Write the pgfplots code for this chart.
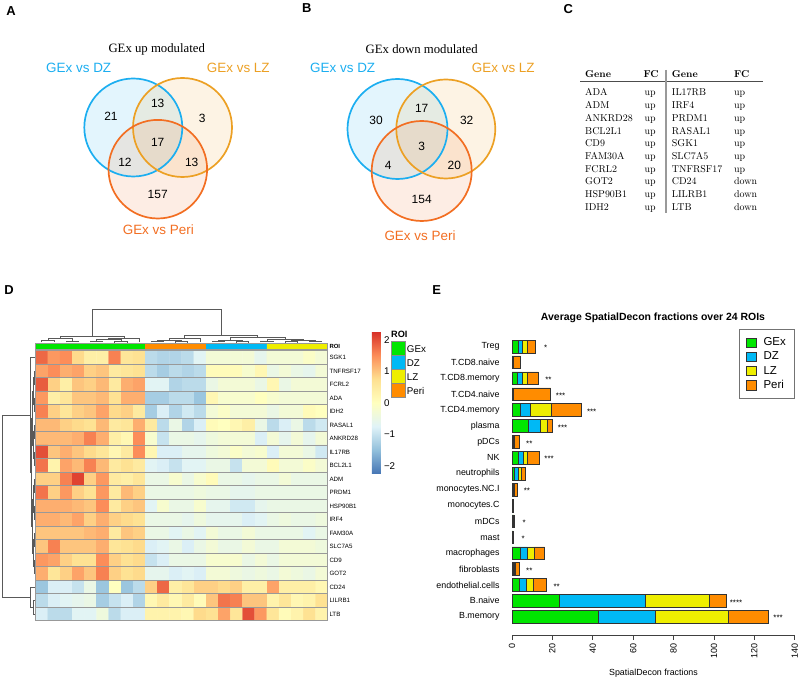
\documentclass[border=0pt]{standalone}
\usepackage{fontspec}
\setsansfont{Liberation Sans}
\newfontfamily\tnr{Liberation Serif}
\usepackage{pgfplots}
\pgfplotsset{compat=1.18}
\usepackage{pgfplotstable}
\newcommand\fs[1]{\fontsize{#1}{#1}\selectfont}
\definecolor{gexc}{RGB}{0,230,0}
\definecolor{dzc}{RGB}{0,185,245}
\definecolor{lzc}{RGB}{238,238,0}
\definecolor{peric}{RGB}{255,140,0}
\definecolor{vdz}{RGB}{28,174,240}
\definecolor{vlz}{RGB}{236,160,36}
\definecolor{vperi}{RGB}{242,110,34}
\pgfplotsset{
  sqlegend/.style={legend image code/.code={\draw[##1,draw=black!80,line width=0.5bp] (0bp,-4.6bp) rectangle (9.3bp,4.6bp);}},
  dg/.style={black!65, line width=0.6bp, mark=none},
}
\tikzset{st/.style={font=\sffamily\fs{8}, xshift=10bp, yshift=-1.5bp}}

% SpatialDecon fractions, y = 17 (Treg) ... 0 (B.memory)
\pgfplotstableread{
y  GEx   DZ    LZ    Peri
17 3.1   2.2   2.3   4.1
16 0.3   0.2   0.3   3.5
15 2.8   2.3   2.2   5.8
14 0.4   0.2   0.2   18.3
13 4.3   4.9   10.4  14.9
12 8.1   5.8   3.6   2.6
11 0.3   0.3   0.7   2.3
10 3.1   2.5   2.0   5.8
9  1.3   1.8   1.5   2.2
8  0.3   0.3   0.3   1.5
7  0.1   0.1   0.1   0.1
6  0.3   0.3   0.2   0.3
5  0.2   0.1   0.1   0.2
4  4.0   3.6   3.5   5.1
3  0.6   0.4   0.8   1.8
2  3.5   3.6   3.5   6.6
1  23.4  42.6  31.7  8.3
0  42.9  28.1  36.3  19.5
}\decon

\begin{document}
\begin{tikzpicture}[x=1bp,y=1bp]
\path[use as bounding box] (0,0) rectangle (800,680);

% panel letters
\begin{scope}[font=\sffamily\bfseries\fs{13}]
\node at (11,669) {A};
\node at (306.7,671.7) {B};
\node at (568.3,670.7) {C};
\node at (9,390) {D};
\node at (436.7,390) {E};
\end{scope}

% ---------- A: Venn up ----------
\node[font=\tnr\fs{12.8}] at (156.7,630.7) {GEx up modulated};
\fill[vdz, fill opacity=0.12] (133.3,552.5) circle[radius=49];
\fill[vlz, fill opacity=0.12] (182.5,552.5) circle[radius=49.5];
\fill[vperi, fill opacity=0.12] (157.8,510.8) circle[radius=49.3];
\draw[vdz, line width=1.7bp] (133.3,552.5) circle[radius=49];
\draw[vlz, line width=1.7bp] (182.5,552.5) circle[radius=49.5];
\draw[vperi, line width=1.7bp] (157.8,510.8) circle[radius=49.3];
\begin{scope}[font=\sffamily\fs{13.5}]
\node[vdz] at (78.7,611.7) {GEx vs DZ};
\node[vlz] at (238.3,611.7) {GEx vs LZ};
\node[vperi] at (158.3,450) {GEx vs Peri};
\end{scope}
\begin{scope}[font=\sffamily\fs{12}]
\node at (111,563.3) {21};
\node at (157.7,576.7) {13};
\node at (202.3,561.7) {3};
\node at (157.7,537.3) {17};
\node at (125,517.3) {12};
\node at (191.7,517.3) {13};
\node at (157.7,485.7) {157};
\end{scope}

% ---------- B: Venn down ----------
\node[font=\tnr\fs{12.8}] at (421.7,630.7) {GEx down modulated};
\fill[vdz, fill opacity=0.12] (397.5,551) circle[radius=50];
\fill[vlz, fill opacity=0.12] (445.8,551) circle[radius=49.5];
\fill[vperi, fill opacity=0.12] (421.7,509) circle[radius=50];
\draw[vdz, line width=1.7bp] (397.5,551) circle[radius=50];
\draw[vlz, line width=1.7bp] (445.8,551) circle[radius=49.5];
\draw[vperi, line width=1.7bp] (421.7,509) circle[radius=50];
\begin{scope}[font=\sffamily\fs{13.5}]
\node[vdz] at (342.7,611.7) {GEx vs DZ};
\node[vlz] at (503.3,611.7) {GEx vs LZ};
\node[vperi] at (420,444) {GEx vs Peri};
\end{scope}
\begin{scope}[font=\sffamily\fs{12}]
\node at (376,559.3) {30};
\node at (421.7,571.7) {17};
\node at (466.7,559.3) {32};
\node at (421.7,534) {3};
\node at (388.3,514.3) {4};
\node at (454.3,514.3) {20};
\node at (421.7,480.7) {154};
\end{scope}

% ---------- C: table ----------
\begin{scope}[every node/.style={anchor=base west, inner sep=0pt, font=\fs{10}}]
\node at (585,602.3) {\bfseries Gene};
\node at (643.3,602.3) {\bfseries FC};
\node at (671.7,602.3) {\bfseries Gene};
\node at (734,602.3) {\bfseries FC};
\foreach \g/\f/\h/\k [count=\i from 0] in {ADA/up/IL17RB/up, ADM/up/IRF4/up,
    ANKRD28/up/PRDM1/up, BCL2L1/up/RASAL1/up, CD9/up/SGK1/up, FAM30A/up/SLC7A5/up,
    FCRL2/up/TNFRSF17/up, GOT2/up/CD24/down, HSP90B1/up/LILRB1/down, IDH2/up/LTB/down} {
  \node at (585,584-12.67*\i) {\g};
  \node at (644.3,584-12.67*\i) {\f};
  \node at (671.7,584-12.67*\i) {\h};
  \node at (734,584-12.67*\i) {\k};
}
\end{scope}
\draw[black!70, line width=0.8bp] (580,598.3) -- (763,598.3);
\draw[black!40, line width=1.1bp] (666,610) -- (666,467);

% ---------- D: heatmap ----------
\begin{axis}[at={(35.7bp,330.3bp)}, anchor=south west, scale only axis,
  width=292bp, height=6bp, xmin=-0.5, xmax=23.5, ymin=0, ymax=1,
  xtick=\empty, ytick=\empty, axis on top,
  minor xtick={-0.5,0.5,...,23.5}, xminorgrids, minor tick length=0pt,
  minor grid style={black!40, line width=0.6bp},
  axis line style={black!40, line width=0.6bp}]
\addplot[fill=gexc, draw=none] coordinates {(-0.5,0) (-0.5,1) (8.5,1) (8.5,0)} \closedcycle;
\addplot[fill=peric, draw=none] coordinates {(8.5,0) (8.5,1) (13.5,1) (13.5,0)} \closedcycle;
\addplot[fill=dzc, draw=none] coordinates {(13.5,0) (13.5,1) (18.5,1) (18.5,0)} \closedcycle;
\addplot[fill=lzc, draw=none] coordinates {(18.5,0) (18.5,1) (23.5,1) (23.5,0)} \closedcycle;
\end{axis}
\node[anchor=west, inner sep=0pt, font=\sffamily\bfseries\fs{6}] at (329.3,333.3) {ROI};

\begin{axis}[at={(35.7bp,59.3bp)}, anchor=south west, scale only axis,
  width=292bp, height=270bp,
  xmin=-0.5, xmax=23.5, ymin=-0.5, ymax=19.5, y dir=reverse, clip=false, axis on top,
  xtick=\empty, ytick={0,...,19},
  yticklabels={SGK1,TNFRSF17,FCRL2,ADA,IDH2,RASAL1,ANKRD28,IL17RB,BCL2L1,ADM,PRDM1,HSP90B1,IRF4,FAM30A,SLC7A5,CD9,GOT2,CD24,LILRB1,LTB},
  yticklabel pos=right,
  yticklabel style={font=\sffamily\fs{6.2}, anchor=west, inner sep=0pt, xshift=1.6bp},
  major tick length=0pt, minor tick length=0pt,
  minor xtick={-0.5,0.5,...,23.5}, minor ytick={-0.5,0.5,...,19.5},
  xminorgrids, yminorgrids,
  minor grid style={black!40, line width=0.6bp},
  axis line style={black!40, line width=0.6bp},
  colormap={rdylbu}{rgb255=(69,117,180) rgb255=(145,191,219) rgb255=(224,243,248)
    rgb255=(255,255,191) rgb255=(254,224,144) rgb255=(252,141,89) rgb255=(215,48,39)},
  point meta min=-2.25, point meta max=2.25,
  colorbar,
  colorbar style={at={(parent axis.north east)}, anchor=north west,
    xshift=35.6bp, yshift=19bp, width=9bp, height=142.3bp, scale only axis,
    ytick={-2,-1,0,1,2}, yticklabels={−2,−1,0,1,2},
    yticklabel style={font=\sffamily\fs{9.8}, anchor=west, inner sep=0pt, xshift=3bp},
    major tick length=0pt, axis line style={draw=none}}]
\addplot[matrix plot*, mesh/cols=24, point meta=explicit]
 table[x expr={\coordindex-24*floor((\coordindex+0.5)/24)},
       y expr={floor((\coordindex+0.5)/24)}, meta=v, row sep=\\] {
v\\
1.8\\ 1.4\\ 1.5\\ 0.8\\ 0.4\\ 0.4\\ 1.6\\ 0.6\\ 0.7\\ -1.1\\ -1.2\\ -1.2\\ -1.1\\ -0.7\\ -0.3\\ -0.3\\ -0.3\\ -0.3\\ -0.6\\ -0.3\\ -0.3\\ -0.3\\ -0.1\\ -0.3\\
1.3\\ 1.5\\ 1.2\\ 1.3\\ 0.9\\ 1.0\\ 0.5\\ 0.6\\ 0.7\\ -1.1\\ -1.3\\ -1.1\\ -1.2\\ -1.1\\ 0.1\\ 0.1\\ 0.1\\ -0.2\\ 0.2\\ -0.5\\ -0.3\\ -0.5\\ -0.6\\ -0.3\\
1.9\\ 0.9\\ 0.4\\ 1.0\\ 0.9\\ 1.1\\ 0.5\\ 1.2\\ 1.3\\ -0.7\\ -0.7\\ -1.2\\ -1.1\\ -1.1\\ -0.5\\ -0.3\\ -0.3\\ -0.3\\ -0.5\\ 0.2\\ -0.5\\ -0.3\\ -0.3\\ -0.3\\
1.4\\ 0.4\\ 0.6\\ 1.0\\ 1.0\\ 1.1\\ 0.7\\ 1.2\\ 1.2\\ -1.3\\ -1.3\\ -1.1\\ -1.1\\ -1.4\\ 0.2\\ -0.2\\ -0.2\\ -0.2\\ 0.0\\ -0.2\\ -0.3\\ -0.3\\ -0.3\\ -0.3\\
1.6\\ 0.9\\ 0.6\\ 0.9\\ 1.0\\ 1.3\\ 0.8\\ 0.9\\ 0.5\\ -1.3\\ -0.8\\ -1.2\\ -0.9\\ -1.1\\ -0.3\\ -0.1\\ -0.3\\ -0.3\\ -0.3\\ -0.5\\ -0.3\\ -0.3\\ 0.1\\ 0.0\\
1.1\\ 1.1\\ 0.9\\ 0.8\\ 0.7\\ 1.1\\ 0.5\\ 0.6\\ 1.2\\ 0.5\\ -1.1\\ -0.5\\ -1.2\\ -0.8\\ 0.1\\ 0.0\\ 0.2\\ 0.4\\ -0.5\\ -1.1\\ -0.8\\ -0.5\\ -1.1\\ -0.9\\
1.1\\ 1.1\\ 1.1\\ 1.2\\ 1.6\\ 1.2\\ 0.4\\ 0.2\\ 1.5\\ -0.2\\ -1.0\\ -0.5\\ -0.5\\ -0.6\\ -0.4\\ -0.3\\ -0.3\\ -0.3\\ -0.8\\ -0.3\\ -0.6\\ -0.3\\ -0.6\\ -0.3\\
2.0\\ 1.0\\ 1.2\\ 1.0\\ 0.8\\ 0.6\\ 0.2\\ 0.5\\ 1.5\\ 0.2\\ -0.8\\ -0.8\\ -0.6\\ -0.6\\ -0.4\\ -0.3\\ -0.1\\ -0.3\\ -0.2\\ -0.8\\ -0.3\\ -0.3\\ -0.5\\ -0.9\\
1.7\\ 0.3\\ 1.3\\ 1.1\\ 1.6\\ 1.1\\ 0.5\\ 0.7\\ 0.5\\ -0.7\\ -0.8\\ -1.0\\ -0.7\\ -0.7\\ -0.5\\ -0.5\\ -1.0\\ -0.3\\ -0.3\\ 0.1\\ -0.3\\ -0.3\\ -0.1\\ -0.3\\
0.9\\ 0.9\\ 1.6\\ 2.1\\ 0.9\\ 1.4\\ 0.5\\ 0.4\\ 0.6\\ -0.5\\ -0.5\\ -0.2\\ -0.5\\ -0.2\\ 0.1\\ -0.5\\ -0.5\\ -0.6\\ -0.5\\ -0.5\\ -0.3\\ -0.5\\ -0.5\\ -0.5\\
1.7\\ 0.9\\ 1.4\\ 0.9\\ 0.7\\ 1.4\\ 0.5\\ 1.1\\ 0.9\\ -0.5\\ -0.5\\ -0.5\\ -0.5\\ -0.4\\ -0.5\\ -0.5\\ -0.6\\ -0.6\\ -0.5\\ -0.5\\ -0.5\\ -0.5\\ -0.5\\ -0.5\\
1.2\\ 1.2\\ 1.2\\ 1.1\\ 1.0\\ 1.5\\ 0.5\\ 0.9\\ 1.0\\ -0.7\\ -0.2\\ -0.5\\ -0.5\\ -0.2\\ -0.6\\ -0.6\\ -0.9\\ -0.9\\ -0.6\\ -0.5\\ -0.5\\ -0.5\\ -0.5\\ -0.5\\
1.2\\ 1.2\\ 1.1\\ 1.3\\ 0.9\\ 1.2\\ 0.9\\ 0.8\\ 0.7\\ -0.5\\ -0.5\\ -0.5\\ -0.6\\ -0.4\\ -0.6\\ -0.6\\ -0.6\\ -0.8\\ -0.7\\ -0.5\\ -0.4\\ -0.5\\ -0.5\\ -0.4\\
1.0\\ 1.0\\ 1.0\\ 1.0\\ 1.1\\ 1.2\\ 0.5\\ 1.0\\ 0.9\\ -0.5\\ -0.5\\ -0.7\\ -0.5\\ -0.7\\ -0.3\\ -0.5\\ -0.5\\ -0.3\\ -0.5\\ -0.5\\ -0.5\\ -0.5\\ -0.7\\ -0.5\\
1.0\\ 1.6\\ 1.0\\ 1.0\\ 1.0\\ 1.2\\ 0.6\\ 0.7\\ 0.8\\ -0.8\\ -0.7\\ -0.5\\ -0.8\\ -0.5\\ -0.3\\ -0.5\\ -0.5\\ -0.3\\ -0.5\\ -0.5\\ -0.3\\ -0.3\\ -0.3\\ -0.4\\
1.4\\ 1.3\\ 0.9\\ 0.7\\ 0.7\\ 1.5\\ 0.9\\ 0.7\\ 0.8\\ -1.0\\ -0.8\\ -0.5\\ -0.5\\ -0.5\\ -0.2\\ -0.2\\ -0.2\\ -0.5\\ -0.3\\ -0.5\\ -0.3\\ -0.3\\ -0.3\\ -0.3\\
1.2\\ 0.6\\ 0.9\\ 1.3\\ 1.0\\ 1.6\\ 0.9\\ 0.7\\ 0.8\\ -0.6\\ -0.6\\ -0.8\\ -0.7\\ -0.8\\ -0.3\\ -0.3\\ -0.4\\ -0.5\\ -0.4\\ -0.5\\ -0.3\\ -0.4\\ -0.5\\ -0.3\\
-1.4\\ -0.8\\ -0.8\\ -1.0\\ -0.5\\ -1.4\\ 0.0\\ -1.4\\ -1.1\\ 0.9\\ 1.8\\ 0.4\\ 0.6\\ 0.9\\ 0.9\\ 0.8\\ 0.9\\ 0.4\\ 0.4\\ 1.3\\ 0.4\\ 0.4\\ 0.4\\ 0.2\\
-1.1\\ -0.8\\ -0.7\\ -0.6\\ -0.5\\ -1.3\\ -1.0\\ -0.8\\ -1.2\\ 0.2\\ 0.5\\ 0.2\\ 0.5\\ 0.1\\ 1.0\\ 1.7\\ 1.6\\ 1.0\\ 1.0\\ 0.3\\ 0.6\\ 0.2\\ 0.3\\ 0.7\\
-0.8\\ -1.1\\ -1.1\\ -0.7\\ -0.7\\ -0.4\\ -1.1\\ -0.8\\ -0.8\\ 0.3\\ 0.3\\ 0.3\\ 0.2\\ 0.8\\ 0.7\\ 1.3\\ 0.6\\ 2.0\\ 1.4\\ 0.6\\ 0.1\\ 0.3\\ 0.7\\ 0.3\\
};
% column dendrogram
\addplot[dg] coordinates {(0,-1.11) (0,-1.26) (1,-1.26) (1,-1.11)};
\addplot[dg] coordinates {(2,-1.11) (2,-1.22) (3,-1.22) (3,-1.11)};
\addplot[dg] coordinates {(0.5,-1.26) (0.5,-1.40) (2.5,-1.40) (2.5,-1.22)};
\addplot[dg] coordinates {(4,-1.11) (4,-1.22) (5,-1.22) (5,-1.11)};
\addplot[dg] coordinates {(6,-1.11) (6,-1.18) (7,-1.18) (7,-1.11)};
\addplot[dg] coordinates {(4.5,-1.22) (4.5,-1.33) (6.5,-1.33) (6.5,-1.18)};
\addplot[dg] coordinates {(5.5,-1.33) (5.5,-1.44) (8,-1.44) (8,-1.11)};
\addplot[dg] coordinates {(1.5,-1.40) (1.5,-1.59) (6.75,-1.59) (6.75,-1.44)};
\addplot[dg] coordinates {(9,-1.11) (9,-1.22) (10,-1.22) (10,-1.11)};
\addplot[dg] coordinates {(11,-1.11) (11,-1.18) (12,-1.18) (12,-1.11)};
\addplot[dg] coordinates {(9.5,-1.22) (9.5,-1.30) (11.5,-1.30) (11.5,-1.18)};
\addplot[dg] coordinates {(10.5,-1.30) (10.5,-1.40) (13,-1.40) (13,-1.11)};
\addplot[dg] coordinates {(14,-1.11) (14,-1.22) (15,-1.22) (15,-1.11)};
\addplot[dg] coordinates {(16,-1.11) (16,-1.18) (17,-1.18) (17,-1.11)};
\addplot[dg] coordinates {(14.5,-1.22) (14.5,-1.30) (16.5,-1.30) (16.5,-1.18)};
\addplot[dg] coordinates {(18,-1.11) (18,-1.22) (19,-1.22) (19,-1.11)};
\addplot[dg] coordinates {(20,-1.11) (20,-1.18) (21,-1.18) (21,-1.11)};
\addplot[dg] coordinates {(22,-1.11) (22,-1.22) (23,-1.22) (23,-1.11)};
\addplot[dg] coordinates {(20.5,-1.18) (20.5,-1.30) (22.5,-1.30) (22.5,-1.22)};
\addplot[dg] coordinates {(18.5,-1.22) (18.5,-1.37) (21.5,-1.37) (21.5,-1.30)};
\addplot[dg] coordinates {(15.5,-1.30) (15.5,-1.48) (20,-1.48) (20,-1.37)};
\addplot[dg] coordinates {(11.75,-1.40) (11.75,-1.66) (17.75,-1.66) (17.75,-1.48)};
\addplot[dg] coordinates {(4.125,-1.59) (4.125,-3.57) (14.75,-3.57) (14.75,-1.66)};
% row dendrogram
\addplot[dg] coordinates {(-0.56,1) (-0.64,1) (-0.64,2) (-0.56,2)};
\addplot[dg] coordinates {(-0.56,3) (-0.64,3) (-0.64,4) (-0.56,4)};
\addplot[dg] coordinates {(-0.56,5) (-0.64,5) (-0.64,6) (-0.56,6)};
\addplot[dg] coordinates {(-0.56,7) (-0.64,7) (-0.64,8) (-0.56,8)};
\addplot[dg] coordinates {(-0.56,9) (-0.64,9) (-0.64,10) (-0.56,10)};
\addplot[dg] coordinates {(-0.56,11) (-0.64,11) (-0.64,12) (-0.56,12)};
\addplot[dg] coordinates {(-0.56,13) (-0.64,13) (-0.64,14) (-0.56,14)};
\addplot[dg] coordinates {(-0.56,15) (-0.64,15) (-0.64,16) (-0.56,16)};
\addplot[dg] coordinates {(-0.64,1.5) (-0.72,1.5) (-0.72,3.5) (-0.64,3.5)};
\addplot[dg] coordinates {(-0.64,5.5) (-0.72,5.5) (-0.72,7.5) (-0.64,7.5)};
\addplot[dg] coordinates {(-0.64,9.5) (-0.72,9.5) (-0.72,11.5) (-0.64,11.5)};
\addplot[dg] coordinates {(-0.64,13.5) (-0.72,13.5) (-0.72,15.5) (-0.64,15.5)};
\addplot[dg] coordinates {(-0.72,2.5) (-0.80,2.5) (-0.80,6.5) (-0.72,6.5)};
\addplot[dg] coordinates {(-0.72,10.5) (-0.80,10.5) (-0.80,14.5) (-0.72,14.5)};
\addplot[dg] coordinates {(-0.80,4.5) (-0.886,4.5) (-0.886,12.5) (-0.80,12.5)};
\addplot[dg] coordinates {(-0.56,0) (-0.968,0) (-0.968,8.5) (-0.886,8.5)};
\addplot[dg] coordinates {(-0.56,18) (-0.68,18) (-0.68,19) (-0.56,19)};
\addplot[dg] coordinates {(-0.56,17) (-0.968,17) (-0.968,18.5) (-0.68,18.5)};
\addplot[dg] coordinates {(-0.968,4.25) (-3.21,4.25) (-3.21,17.75) (-0.968,17.75)};
\end{axis}

% ROI legend
\node[anchor=west, inner sep=0pt, font=\sffamily\bfseries\fs{9.2}] at (391,345.7) {ROI};
\foreach \c/\n [count=\k from 0] in {gexc/GEx, dzc/DZ, lzc/LZ, peric/Peri} {
  \filldraw[fill=\c, draw=black!45, line width=0.8bp] (391,338.3-14*\k) rectangle (405,324.3-14*\k);
  \node[anchor=west, inner sep=0pt, font=\sffamily\fs{9.8}] at (406.7,331.3-14*\k) {\n};
}

% ---------- E: stacked bars ----------
\node[font=\sffamily\bfseries\fs{10.5}] at (653,362) {Average SpatialDecon fractions over 24 ROIs};
\node[font=\sffamily\fs{8.9}] at (653.5,7) {SpatialDecon fractions};
\begin{axis}[at={(512bp,45bp)}, anchor=south west, scale only axis,
  width=282.7bp, height=298.1bp,
  xbar stacked, bar width=12.7bp,
  xmin=0, xmax=140, ymin=-1.15, ymax=17.6,
  axis x line*=bottom, axis y line*=left,
  y axis line style={draw=none},
  x axis line style={-, black!75, line width=0.7bp},
  xtick={0,20,...,140}, tick align=outside, major tick length=5bp,
  xtick style={black!75, line width=0.7bp}, ytick style={draw=none},
  xticklabel style={rotate=90, anchor=east, font=\sffamily\fs{9}},
  ytick={0,...,17},
  yticklabels={B.memory,B.naive,endothelial.cells,fibroblasts,macrophages,mast,mDCs,monocytes.C,monocytes.NC.I,neutrophils,NK,pDCs,plasma,T.CD4.memory,T.CD4.naive,T.CD8.memory,T.CD8.naive,Treg},
  yticklabel style={font=\sffamily\fs{8.9}, anchor=east, xshift=-4bp},
  /pgf/number format/assume math mode=true,
  legend style={at={(1,1)}, anchor=north east, yshift=8bp, draw=black!55,
    line width=0.8bp,
    font=\sffamily\fs{11.5}, row sep=0bp, inner xsep=7bp, inner ysep=6bp,
    nodes={text height=8.7bp, text depth=2.6bp, inner sep=1.5bp},
    /tikz/every odd column/.append style={column sep=6bp}},
  legend cell align=left]
\addplot[fill=gexc, draw=black!80, line width=0.5bp, sqlegend] table[x=GEx, y=y] {\decon};
\addplot[fill=dzc, draw=black!80, line width=0.5bp, sqlegend] table[x=DZ, y=y] {\decon};
\addplot[fill=lzc, draw=black!80, line width=0.5bp, sqlegend] table[x=LZ, y=y] {\decon};
\addplot[fill=peric, draw=black!80, line width=0.5bp, sqlegend] table[x=Peri, y=y] {\decon};
\legend{GEx,DZ,LZ,Peri}
\node[st] at (axis cs:11.7,17) {*};
\node[st] at (axis cs:13.1,15) {**};
\node[st] at (axis cs:19.1,14) {***};
\node[st] at (axis cs:34.5,13) {***};
\node[st] at (axis cs:20.1,12) {***};
\node[st] at (axis cs:3.6,11) {**};
\node[st] at (axis cs:13.4,10) {***};
\node[st] at (axis cs:2.4,8) {**};
\node[st] at (axis cs:1.1,6) {*};
\node[st] at (axis cs:0.6,5) {*};
\node[st] at (axis cs:3.6,3) {**};
\node[st] at (axis cs:17.2,2) {**};
\node[st] at (axis cs:106.0,1) {****};
\node[st] at (axis cs:126.8,0) {***};
\end{axis}
\end{tikzpicture}
\end{document}
